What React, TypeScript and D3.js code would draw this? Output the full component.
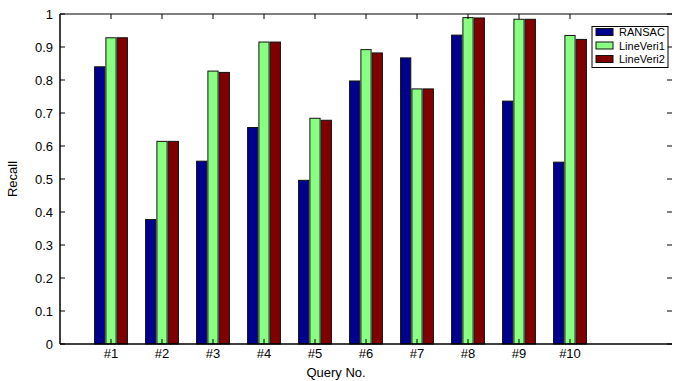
import React from 'react'
import * as d3 from 'd3'

const queries = ['#1', '#2', '#3', '#4', '#5', '#6', '#7', '#8', '#9', '#10']
const seriesNames = ['RANSAC', 'LineVeri1', 'LineVeri2']
const ransac = [0.84, 0.377, 0.554, 0.656, 0.496, 0.797, 0.867, 0.936, 0.736, 0.551]
const lineVeri1 = [0.928, 0.614, 0.827, 0.915, 0.684, 0.892, 0.773, 0.989, 0.984, 0.935]
const lineVeri2 = [0.928, 0.614, 0.823, 0.915, 0.678, 0.882, 0.773, 0.988, 0.984, 0.923]
const yTicks = [0, 0.1, 0.2, 0.3, 0.4, 0.5, 0.6, 0.7, 0.8, 0.9, 1]

const colors = ['#00008f', '#88ff80', '#800000']
const W = 676
const H = 381
const left = 60
const right = 672
const top = 14
const bottom = 344
const font = '"Liberation Sans", Arial, Helvetica, sans-serif'

export default function App() {
  const series = [ransac, lineVeri1, lineVeri2]
  const x = d3.scaleLinear().domain([0, 12]).range([left, right])
  const y = d3.scaleLinear().domain([0, 1]).range([bottom, top])
  const offsets = [-0.222, 0, 0.222]
  const bw = 0.2

  return (
    <svg
      width={W}
      height={H}
      style={{ position: 'absolute', left: 0, top: 0, background: '#fff' }}
      fontFamily={font}
    >
      {/* bars */}
      {series.map((vals, s) =>
        vals.map((v, i) => {
          const x0 = x(i + 1 + offsets[s] - bw / 2)
          const x1 = x(i + 1 + offsets[s] + bw / 2)
          return (
            <rect
              key={s + '-' + i}
              x={x0}
              y={y(v)}
              width={x1 - x0}
              height={y(0) - y(v)}
              fill={colors[s]}
              stroke="#111"
              strokeWidth={1}
            />
          )
        })
      )}

      {/* axes box */}
      <line x1={left} x2={right} y1={top} y2={top} stroke="#000" strokeWidth={1.2} />
      <line x1={left} x2={right} y1={bottom} y2={bottom} stroke="#000" strokeWidth={1.5} />
      <line x1={left} x2={left} y1={top} y2={bottom} stroke="#000" strokeWidth={1.5} />

      {/* y ticks */}
      {yTicks.map((t) => (
        <g key={t}>
          <line x1={left} x2={left + 5} y1={y(t)} y2={y(t)} stroke="#000" />
          <line x1={right - 5} x2={right} y1={y(t)} y2={y(t)} stroke="#000" />
          <text
            x={left - 7}
            y={y(t)}
            textAnchor="end"
            dominantBaseline="central"
            fontSize={13}
          >
            {d3.format('~g')(t)}
          </text>
        </g>
      ))}

      {/* x ticks */}
      {queries.map((q, i) => (
        <g key={q}>
          <line x1={x(i + 1)} x2={x(i + 1)} y1={top} y2={top + 5} stroke="#000" />
          <line x1={x(i + 1)} x2={x(i + 1)} y1={bottom} y2={bottom - 5} stroke="#000" />
          <text x={x(i + 1)} y={353} textAnchor="middle" dominantBaseline="central" fontSize={13}>
            {q}
          </text>
        </g>
      ))}

      {/* axis labels */}
      <text x={336} y={372} textAnchor="middle" dominantBaseline="central" fontSize={13}>
        Query No.
      </text>
      <text
        transform={`translate(12,${(top + bottom) / 2}) rotate(-90)`}
        textAnchor="middle"
        dominantBaseline="central"
        fontSize={13}
      >
        Recall
      </text>

      {/* legend */}
      <rect x={592} y={26.5} width={76} height={41} fill="#fff" stroke="#000" strokeWidth={1} />
      {seriesNames.map((name, i) => {
        const cy = 32 + i * 13.5
        return (
          <g key={name}>
            <rect x={596} y={cy - 3.5} width={17} height={7} fill={colors[i]} stroke="#111" />
            <text x={619} y={cy} dominantBaseline="central" fontSize={11}>
              {name}
            </text>
          </g>
        )
      })}
    </svg>
  )
}
